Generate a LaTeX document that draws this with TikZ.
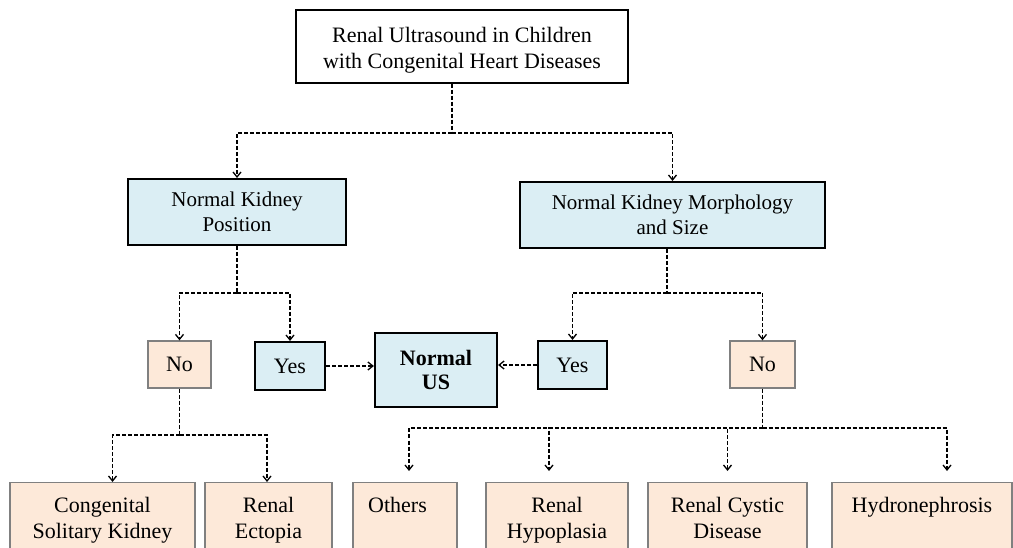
\documentclass[tikz,border=0pt]{standalone}
\usepackage{fontspec}
\setmainfont{Liberation Serif}
\usetikzlibrary{arrows.meta}

\definecolor{askblue}{RGB}{219,238,244}
\definecolor{leafpeach}{RGB}{253,233,217}
\definecolor{leafgray}{RGB}{128,128,128}

\begin{document}
\begin{tikzpicture}[
                    x=1pt, y=-1pt,
                    >={Straight Barb[length=5pt,width=8pt]},
                    link/.style={draw, dash pattern=on 4pt off 2pt, line width=1.3pt},
                    titlebox/.style={draw, line width=1.3pt, fill=white, inner sep=0pt, align=center,
                                     font=\fontsize{22}{26}\selectfont},
                    askbox/.style={draw, line width=2pt, fill=askblue, inner sep=0pt, align=center,
                                   minimum height=66pt, font=\fontsize{21}{24.5}\selectfont},
                    yesbox/.style={draw, line width=2pt, fill=askblue, inner sep=0pt,
                                   minimum height=48pt, font=\fontsize{22}{26}\selectfont},
                    nobox/.style={draw=leafgray, line width=1.3pt, fill=leafpeach, inner sep=0pt,
                                  minimum height=47pt, font=\fontsize{22}{26}\selectfont},
                    leafbox/.style={draw=leafgray, line width=1.3pt, fill=leafpeach, anchor=north,
                                    inner xsep=0pt, inner ysep=15pt, align=center,
                                    font=\fontsize{22}{26}\selectfont}
                    ]

                    \fill[white] (0,0) rectangle (1013,548);
                    \useasboundingbox (0,0) rectangle (1013,548);
                    \clip (0,0) rectangle (1013,548);

                    % question boxes
                    \node [titlebox, minimum width=332pt, minimum height=73pt] (top) at (462,46.5)
                        {\rule{0pt}{22pt}Renal Ultrasound in Children\\with Congenital Heart Diseases};
                    \node [askbox, minimum width=218pt] (npos) at (237,212) {Normal Kidney\\Position};
                    \node [askbox, minimum width=305pt] (nmorph) at (672.5,215) {Normal Kidney Morphology\\and Size};

                    % answers
                    \node [nobox, minimum width=63pt] (noL) at (179.5,364.5) {No};
                    \node [yesbox, minimum width=70pt] (yesL) at (290,366) {Yes};
                    \node [yesbox, line width=2.2pt, minimum width=122pt, minimum height=74pt, align=center,
                           font=\bfseries\fontsize{22}{24}\selectfont] (nus) at (436,370) {Normal\\US};
                    \node [yesbox, minimum width=69pt] (yesR) at (572.5,365) {Yes};
                    \node [nobox, minimum width=65pt] (noR) at (762.5,364.5) {No};

                    % findings
                    \node [leafbox, minimum width=185pt] (solitary) at (102.5,482) {Congenital\\Solitary Kidney};
                    \node [leafbox, minimum width=127pt] (ectopia) at (268.5,482) {Renal\\Ectopia};
                    \node [leafbox, minimum width=104pt] (others) at (405,482) {Others\hspace*{15pt}\\\mbox{}};
                    \node [leafbox, minimum width=142pt] (hypo) at (557,482) {Renal\\Hypoplasia};
                    \node [leafbox, minimum width=159pt] (cystic) at (727.5,482) {Renal Cystic\\Disease};
                    \node [leafbox, minimum width=180pt] (hydro) at (922,482) {Hydronephrosis\\\mbox{}};

                    \coordinate (topsplit) at (452,133);
                    \coordinate (possplit) at (237,293);
                    \coordinate (morphsplit) at (667,293);
                    \coordinate (nolsplit) at (179.5,435);
                    \coordinate (norsplit) at (762.5,428);

                    \draw[link] (top.south -| topsplit) -- (topsplit);
                    \draw[link,->] (topsplit) -| (npos.north);
                    \draw[link,->] (topsplit) -| (nmorph.north);

                    \draw[link] (npos.south) -- (possplit);
                    \draw[link,->] (possplit) -| (noL.north);
                    \draw[link,->] (possplit) -| (yesL.north);

                    \draw[link] (nmorph.south -| morphsplit) -- (morphsplit);
                    \draw[link,->] (morphsplit) -| (yesR.north);
                    \draw[link,->] (morphsplit) -| (noR.north);

                    \draw[link,->] (yesL.east) -- (yesL.east -| nus.west);
                    \draw[link,->] (yesR.west) -- (yesR.west -| nus.east);

                    \draw[link] (noL.south) -- (nolsplit);
                    \draw[link,->] (nolsplit) -| ([xshift=10pt]solitary.north);
                    \draw[link,->] (nolsplit) -| ([xshift=-1.5pt]ectopia.north);

                    \draw[link] (noR.south) -- (norsplit);
                    \draw[link,->,shorten >=11pt] (norsplit) -| ([xshift=4pt]others.north);
                    \draw[link,->,shorten >=11pt] (norsplit) -| ([xshift=-8pt]hypo.north);
                    \draw[link,->,shorten >=11pt] (norsplit) -| (cystic.north);
                    \draw[link,->,shorten >=11pt] (norsplit) -| ([xshift=25pt]hydro.north);
                \end{tikzpicture}
\end{document}
